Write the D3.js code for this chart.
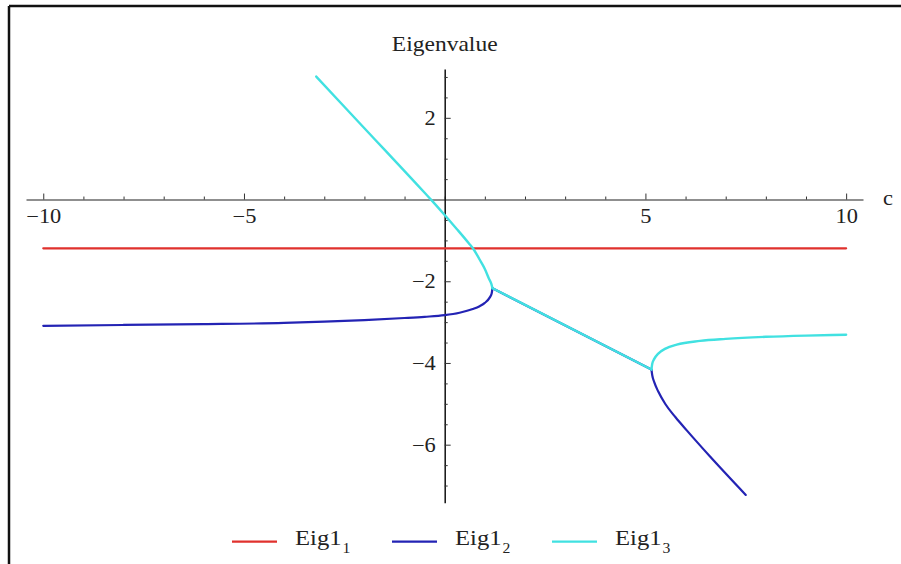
<!DOCTYPE html>
<html>
<head>
<meta charset="utf-8">
<script src="https://cdn.jsdelivr.net/npm/d3@7"></script>
<style>
  body { margin: 0; background: #fff; }
  svg { display: block; }
  text { font-family: "Liberation Serif", "Times New Roman", serif; fill: #222; }
</style>
</head>
<body>
<div id="chart"></div>
<script>
// parameter c on the x axis, eigenvalue on the y axis
var names     = ["Eig1", "Eig1", "Eig1"];
var subs      = ["1", "2", "3"];
var colors    = ["#e0312d", "#2323b4", "#41e1e1"];

var xMajor = [-10, -5, 5, 10];
var xMinor = [-9, -8, -7, -6, -4, -3, -2, -1, 0, 1, 2, 3, 4, 6, 7, 8, 9];
var yMajor = [-6, -4, -2, 2];
var yMinor = [-7, -6.5, -5.5, -5, -4.5, -3.5, -3, -2.5, -1.5, -1, -0.5, 0.5, 1, 1.5, 2.5, 3];

// Eig1_1 : constant
var eig1 = [[[-10, -1.195], [10, -1.195]]];

// Eig1_2 : lower branch, shared real part, falling branch
var eig2 = [
  [[-10, -3.09], [-8, -3.07], [-6, -3.05], [-4, -3.02], [-3, -2.99], [-2, -2.95], [-1, -2.90],
   [-0.5, -2.87], [0, -2.83], [0.37, -2.77], [0.7, -2.68], [0.87, -2.61], [1.0, -2.53],
   [1.12, -2.40], [1.17, -2.30], [1.19, -2.17]],
  [[1.19, -2.17], [5.15, -4.16]],
  [[5.15, -4.16], [5.17, -4.30], [5.22, -4.47], [5.32, -4.70], [5.5, -5.01], [5.75, -5.33],
   [6.03, -5.65], [6.61, -6.29], [7.5, -7.23]]
];

// Eig1_3 : upper branch, shared real part, rising branch
var eig3 = [
  [[-3.2, 3.01], [-2.5, 2.27], [-2, 1.745], [-1.5, 1.22], [-1, 0.695], [-0.5, 0.165], [-0.33, -0.015],
   [0, -0.38], [0.3, -0.72], [0.6, -1.07], [0.71, -1.205], [0.9, -1.52], [1.0, -1.70],
   [1.1, -1.93], [1.16, -2.06], [1.19, -2.17]],
  [[1.19, -2.17], [5.15, -4.16]],
  [[5.15, -4.16], [5.17, -4.02], [5.22, -3.90], [5.32, -3.77], [5.5, -3.65], [5.78, -3.55],
   [6.36, -3.46], [7, -3.41], [8, -3.36], [9, -3.33], [10, -3.31]]
];

var series = [eig1, eig2, eig3];

var W = 901, H = 564;
var stretch = "scale(1.12,1)";   // the original text is a bit wide
var svg = d3.select("#chart").append("svg").attr("width", W).attr("height", H);

// frame (cut off at right and bottom)
svg.append("line").attr("x1", 9).attr("x2", W).attr("y1", 6).attr("y2", 6)
   .attr("stroke", "#111").attr("stroke-width", 2.5);
svg.append("line").attr("x1", 9).attr("x2", 9).attr("y1", 6).attr("y2", H)
   .attr("stroke", "#111").attr("stroke-width", 2.5);

var x = d3.scaleLinear().domain([-10.43, 10.42]).range([26, 863]);
var y = d3.scaleLinear().domain([-7.42, 3.195]).range([502.7, 69]);

var x0 = x(0), y0 = y(0);

// x axis: line + ticks pointing up
var gx = svg.append("g").attr("transform", "translate(0," + y0 + ")");
gx.append("g").call(d3.axisTop(x).tickValues(xMajor).tickSize(6).tickSizeOuter(0).tickFormat(""))
  .call(function(g) { g.select(".domain").attr("stroke", "#6a6a6a").attr("stroke-width", 1.4); });
gx.append("g").call(d3.axisTop(x).tickValues(xMinor).tickSize(3).tickFormat(""))
  .call(function(g) { g.select(".domain").remove(); });
gx.append("g").call(d3.axisBottom(x).tickValues(xMajor).tickSize(0).tickPadding(9))
  .call(function(g) {
    g.select(".domain").remove();
    g.selectAll("text").attr("font-size", 20).attr("fill", "#222").attr("transform", stretch);
  });
gx.selectAll(".tick line").attr("stroke", "#333");

// y axis: line + ticks pointing right
var gy = svg.append("g").attr("transform", "translate(" + x0 + ",0)");
gy.append("g").call(d3.axisRight(y).tickValues(yMajor).tickSize(6).tickSizeOuter(0).tickFormat(""))
  .call(function(g) { g.select(".domain").attr("stroke", "#111").attr("stroke-width", 1.5); });
gy.append("g").call(d3.axisRight(y).tickValues(yMinor).tickSize(3).tickFormat(""))
  .call(function(g) { g.select(".domain").remove(); });
gy.append("g").call(d3.axisLeft(y).tickValues(yMajor).tickSize(0).tickPadding(8))
  .call(function(g) {
    g.select(".domain").remove();
    g.selectAll("text").attr("font-size", 20).attr("fill", "#222").attr("transform", stretch);
  });
gy.selectAll(".tick line").attr("stroke", "#333");

// axis labels
svg.append("g").attr("transform", "translate(883,205)")
   .append("text").attr("font-size", 20).attr("transform", stretch).text("c");
svg.append("g").attr("transform", "translate(" + x0 + ",51)")
   .append("text").attr("text-anchor", "middle").attr("font-size", 21)
   .attr("transform", stretch).text("Eigenvalue");

// curves
var line = d3.line()
  .x(function(d) { return x(d[0]); })
  .y(function(d) { return y(d[1]); })
  .curve(d3.curveMonotoneX);

series.forEach(function(segs, i) {
  svg.append("g").selectAll("path").data(segs).enter()
    .append("path")
    .attr("d", line)
    .attr("fill", "none")
    .attr("stroke", colors[i])
    .attr("stroke-width", i == 2 ? 2.4 : 2.2)
    .attr("stroke-linejoin", "round")
    .attr("stroke-linecap", "round");
});

// legend
var lg = svg.append("g").selectAll("g").data(names).enter()
  .append("g")
  .attr("transform", function(d, i) { return "translate(" + (232 + i * 160) + ",0)"; });
lg.append("line")
  .attr("x1", 0).attr("x2", 45).attr("y1", 541.7).attr("y2", 541.7)
  .attr("stroke", function(d, i) { return colors[i]; })
  .attr("stroke-width", 2.2);
var lt = lg.append("g").attr("transform", "translate(63,545)")
  .append("text").attr("font-size", 22).attr("transform", stretch);
lt.append("tspan").text(function(d) { return d; });
lt.append("tspan").attr("font-size", 14).attr("dx", 1).attr("dy", 8)
  .text(function(d, i) { return subs[i]; });
</script>
</body>
</html>
